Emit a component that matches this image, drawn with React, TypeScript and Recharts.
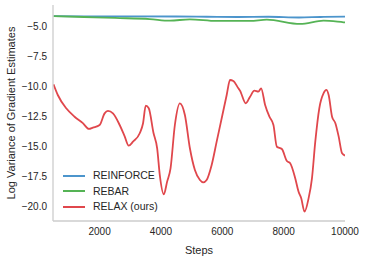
import React from "react";
import { LineChart, Line, XAxis, YAxis } from "recharts";

const reinforceSteps = [500, 1500, 3000, 4500, 5500, 6500, 7500, 8500, 9200, 10000];
const reinforceValues = [-4.17, -4.19, -4.2, -4.21, -4.23, -4.25, -4.23, -4.29, -4.25, -4.22];

const rebarSteps = [500, 1500, 2500, 3634, 4288, 4941, 5813, 6905, 7450, 8536, 9300, 9954, 10000];
const rebarValues = [-4.17, -4.25, -4.33, -4.42, -4.56, -4.44, -4.58, -4.58, -4.47, -4.83, -4.56, -4.69, -4.7];

const relaxSteps = [
  496, 636, 911, 1183, 1454, 1650, 1781, 2000, 2163, 2271, 2435, 2654, 2817, 2948, 3089,
  3308, 3416, 3504, 3602, 3755, 3876, 3961, 4093, 4201, 4312, 4453, 4616, 4780, 4943, 5106,
  5270, 5378, 5489, 5653, 5816, 5980, 6143, 6251, 6359, 6522, 6578, 6764, 6905, 7046, 7176,
  7265, 7396, 7536, 7667, 7778, 7941, 8105, 8213, 8377, 8484, 8573, 8681, 8812, 8923, 9031,
  9162, 9303, 9390, 9467, 9578, 9686, 9794, 9905, 10000,
];
const relaxValues = [
  -9.86, -10.75, -11.86, -12.56, -13.1, -13.58, -13.47, -13.25, -12.28, -12.08, -12.28, -13.25, -14.2, -14.97, -14.64,
  -13.94, -13.1, -11.64, -11.86, -13.9, -15.2, -17.4, -19.03, -17.97, -16.86, -13.25, -11.44, -12.42, -15.19, -17.0,
  -17.83, -18.03, -17.83, -16.58, -14.64, -12.69, -10.75, -9.5, -9.58, -10.19, -10.39, -11.44, -10.89, -10.39, -10.47,
  -10.19, -11.58, -12.56, -13.25, -15.06, -15.25, -16.25, -16.44, -17.69, -18.8, -19.36, -20.47, -19.36, -17.69, -14.64,
  -11.86, -10.6, -10.33, -10.75, -12.56, -13.1, -14.22, -15.61, -15.8,
];

const xTicks = [2000, 4000, 6000, 8000, 10000];
const yTicks = [-5, -7.5, -10, -12.5, -15, -17.5, -20];

const seriesNames = ["REINFORCE", "REBAR", "RELAX (ours)"];
const seriesColors = ["#4c95cc", "#55b355", "#e0474c"];

const toData = (steps: number[], values: number[]) =>
  steps.map((s, i) => ({ step: s, value: values[i] }));

const reinforceData = toData(reinforceSteps, reinforceValues);
const rebarData = toData(rebarSteps, rebarValues);
const relaxData = toData(relaxSteps, relaxValues);

const FONT = "'Liberation Sans', Arial, sans-serif";
const TEXT = "#262626";

const fmtY = (v: number) => {
  const s = Math.abs(v).toFixed(1);
  return v < 0 ? "\u2212" + s : s;
};

export default function App() {
  return (
    <div style={{ position: "absolute", left: 0, top: 0, width: 365, height: 259, background: "#fff" }}>
      <LineChart
        width={365}
        height={259}
        margin={{ top: 5, right: 20, left: 0, bottom: 0 }}
      >
        <XAxis
          dataKey="step"
          type="number"
          domain={[480, 10000]}
          ticks={xTicks}
          allowDataOverflow
          tickLine={false}
          tickSize={0}
          tickMargin={7}
          axisLine={{ stroke: "#cccccc", strokeWidth: 1.3 }}
          tick={{ fill: TEXT, fontSize: 10, fontFamily: FONT }}
          height={38}
          label={{ value: "Steps", position: "insideBottom", offset: 5, fill: TEXT, fontSize: 11, fontFamily: FONT }}
        />
        <YAxis
          type="number"
          domain={[-21.25, -3.25]}
          ticks={yTicks}
          allowDataOverflow
          tickLine={false}
          tickSize={0}
          tickMargin={6}
          tickFormatter={fmtY}
          axisLine={{ stroke: "#cccccc", strokeWidth: 1.3 }}
          tick={{ fill: TEXT, fontSize: 10, fontFamily: FONT }}
          width={53}
          label={{
            value: "Log Variance of Gradient Estimates",
            angle: -90,
            position: "insideLeft",
            offset: 11,
            style: { textAnchor: "middle" },
            fill: TEXT,
            fontSize: 11,
            fontFamily: FONT,
          }}
        />
        <Line data={reinforceData} dataKey="value" name={seriesNames[0]} stroke={seriesColors[0]} strokeWidth={1.8} dot={false} type="monotone" isAnimationActive={false} />
        <Line data={rebarData} dataKey="value" name={seriesNames[1]} stroke={seriesColors[1]} strokeWidth={1.8} dot={false} type="monotone" isAnimationActive={false} />
        <Line data={relaxData} dataKey="value" name={seriesNames[2]} stroke={seriesColors[2]} strokeWidth={1.8} dot={false} type="monotone" isAnimationActive={false} />
      </LineChart>
      <div style={{ position: "absolute", left: 63, top: 168, fontFamily: FONT, fontSize: 10.5, color: TEXT, lineHeight: "15.5px" }}>
        {seriesNames.map((n, i) => (
          <div key={n} style={{ display: "flex", alignItems: "center", height: 15.5 }}>
            <div style={{ width: 22, height: 2, background: seriesColors[i], marginRight: 8 }} />
            <span>{n}</span>
          </div>
        ))}
      </div>
    </div>
  );
}
